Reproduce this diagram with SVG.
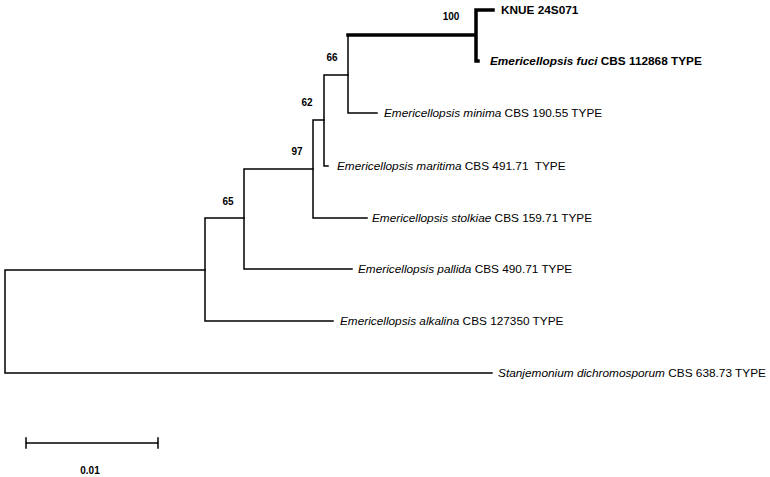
<svg xmlns="http://www.w3.org/2000/svg" width="770" height="477" viewBox="0 0 770 477">
<style>
.br{fill:none;stroke:#000;stroke-width:1.5;stroke-linecap:square}
.thick{fill:none;stroke:#000;stroke-width:3.5;stroke-linecap:square}
.lbl{font-family:"Liberation Sans",Arial,sans-serif;font-size:11.8px;fill:#000}
.it{font-style:italic}
.b{font-weight:bold}
.bs{font-family:"Liberation Sans",Arial,sans-serif;font-size:10px;font-weight:bold;fill:#000;text-anchor:middle}
</style>
<rect width="770" height="477" fill="#fff"/>
<g id="connectors">
  <path class="br" d="M5,270 V373 M5,270 H205 M5,373 H492"/>
  <path class="br" d="M205,218 V321 M205,218 H244 M205,321 H333"/>
  <path class="br" d="M244,169 V269 M244,169 H313 M244,269 H352"/>
  <path class="br" d="M313,120 V218 M313,120 H324 M313,218 H367"/>
  <path class="br" d="M324,75 V166 M324,75 H348 M324,166 H328"/>
  <path class="br" d="M348,35 V113 M348,113 H377"/>
  <path class="thick" d="M348,35 H476 M476,10 V61 M476,10 H493 M476,61 H478"/>
</g>
<g id="bootstrap">
  <text class="bs" x="451" y="20">100</text>
  <text class="bs" x="332" y="61">66</text>
  <text class="bs" x="307" y="106">62</text>
  <text class="bs" x="297" y="155">97</text>
  <text class="bs" x="228" y="205">65</text>
</g>
<g id="n-knue"><text class="lbl b" x="501" y="14">KNUE 24S071</text></g>
<g id="n-fuci"><text class="lbl b" x="490" y="65"><tspan class="it">Emericellopsis fuci</tspan> CBS 112868 TYPE</text></g>
<g id="n-minima"><text class="lbl" x="384" y="117"><tspan class="it">Emericellopsis minima</tspan> CBS 190.55 TYPE</text></g>
<g id="n-maritima"><text class="lbl" x="337" y="170" xml:space="preserve"><tspan class="it">Emericellopsis maritima</tspan> CBS 491.71  TYPE</text></g>
<g id="n-stolkiae"><text class="lbl" x="372" y="222"><tspan class="it">Emericellopsis stolkiae</tspan> CBS 159.71 TYPE</text></g>
<g id="n-pallida"><text class="lbl" x="358" y="273"><tspan class="it">Emericellopsis pallida</tspan> CBS 490.71 TYPE</text></g>
<g id="n-alkalina"><text class="lbl" x="340" y="325"><tspan class="it">Emericellopsis alkalina</tspan> CBS 127350 TYPE</text></g>
<g id="n-stanjemonium"><text class="lbl" x="498" y="377" textLength="268" lengthAdjust="spacingAndGlyphs"><tspan class="it">Stanjemonium dichromosporum</tspan> CBS 638.73 TYPE</text></g>
<g id="scale">
  <path class="br" d="M26,443 H158 M26,438 V448 M158,438 V448"/>
  <text class="bs" x="90" y="474">0.01</text>
</g>
</svg>
